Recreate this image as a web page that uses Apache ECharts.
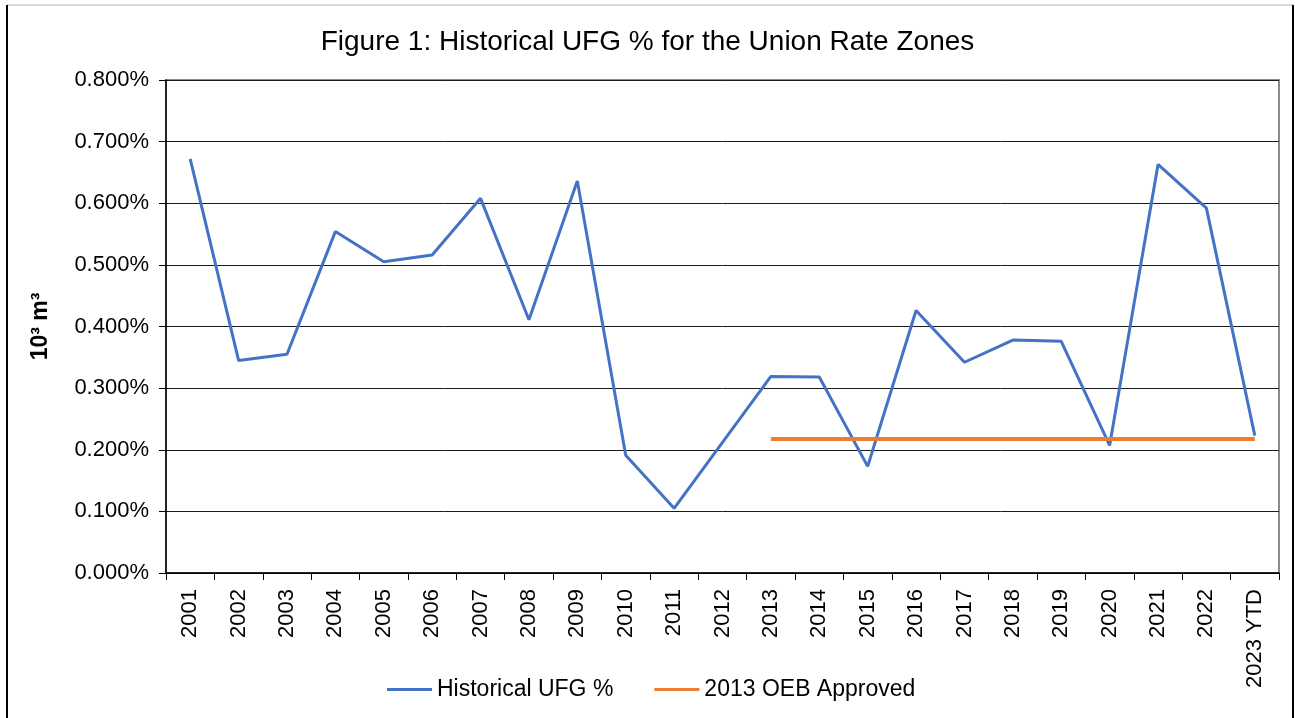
<!DOCTYPE html>
<html>
<head>
<meta charset="utf-8">
<script src="https://cdn.jsdelivr.net/npm/echarts@6/dist/echarts.min.js"></script>
<style>
html,body{margin:0;padding:0;background:#fff;}
#chart{width:1295px;height:718px;}
</style>
</head>
<body>
<div id="chart"></div>
<script>
const categories = ['2001','2002','2003','2004','2005','2006','2007','2008','2009','2010','2011','2012','2013','2014','2015','2016','2017','2018','2019','2020','2021','2022','2023 YTD'];
const historicalUFG = [0.672,0.345,0.355,0.554,0.505,0.516,0.608,0.411,0.636,0.191,0.105,0.212,0.319,0.318,0.173,0.426,0.342,0.378,0.376,0.207,0.663,0.592,0.223];
const oebApproved = [null,null,null,null,null,null,null,null,null,null,null,null,0.2175,0.2175,0.2175,0.2175,0.2175,0.2175,0.2175,0.2175,0.2175,0.2175,0.2175];
const yTicks = {min:0, max:0.8, interval:0.1};

const chart = echarts.init(document.getElementById('chart'), null, {renderer:'canvas'});
const font = 'Arial, "Liberation Sans", sans-serif';
chart.setOption({
  backgroundColor:'#fff',
  animation:false,
  title:{
    text:'Figure 1: Historical UFG % for the Union Rate Zones',
    left:'center', top:23,
    textStyle:{fontFamily:font, fontSize:28, fontWeight:'normal', color:'#000'}
  },
  graphic:[
    {type:'line', shape:{x1:7,y1:5,x2:1293,y2:5}, style:{stroke:'#d9d9d9', lineWidth:2}},
    {type:'line', shape:{x1:7,y1:5,x2:7,y2:718}, style:{stroke:'#000', lineWidth:2}},
    {type:'line', shape:{x1:1293,y1:5,x2:1293,y2:718}, style:{stroke:'#000', lineWidth:2}}
  ],
  grid:{left:166, right:16, top:80, bottom:145, show:true, borderColor:'#8c8c8c', borderWidth:2},
  legend:{
    left:382, top:673,
    itemWidth:45, itemHeight:3, icon:'rect', itemGap:41,
    textStyle:{fontFamily:font, fontSize:23, color:'#000'},
    data:['Historical UFG %','2013 OEB Approved']
  },
  xAxis:{
    type:'category', data:categories, boundaryGap:true,
    axisLine:{lineStyle:{color:'#000', width:1.5}},
    axisTick:{show:true, length:7, alignWithLabel:false, lineStyle:{color:'#000'}},
    axisLabel:{rotate:90, margin:16, fontFamily:font, fontSize:22, color:'#000', interval:0}
  },
  yAxis:{
    type:'value', min:yTicks.min, max:yTicks.max, interval:yTicks.interval,
    name:'10³ m³', nameLocation:'middle', nameGap:114, nameRotate:90,
    nameTextStyle:{fontFamily:font, fontSize:23, fontWeight:'bold', color:'#000'},
    axisLine:{show:true, lineStyle:{color:'#000', width:1.5}},
    axisTick:{show:true, length:7, lineStyle:{color:'#000'}},
    axisLabel:{margin:17, fontFamily:font, fontSize:22, color:'#000', formatter:v=>v.toFixed(3)+'%'},
    splitLine:{show:true, lineStyle:{color:'#1a1a1a', width:1}}
  },
  series:[
    {name:'Historical UFG %', type:'line', data:historicalUFG, showSymbol:false, symbol:'none',
     lineStyle:{color:'#4472C4', width:3}, itemStyle:{color:'#4472C4'}},
    {name:'2013 OEB Approved', type:'line', data:oebApproved, showSymbol:false, symbol:'none',
     lineStyle:{color:'#ED7D31', width:4}, itemStyle:{color:'#ED7D31'}}
  ]
});
</script>
</body>
</html>
